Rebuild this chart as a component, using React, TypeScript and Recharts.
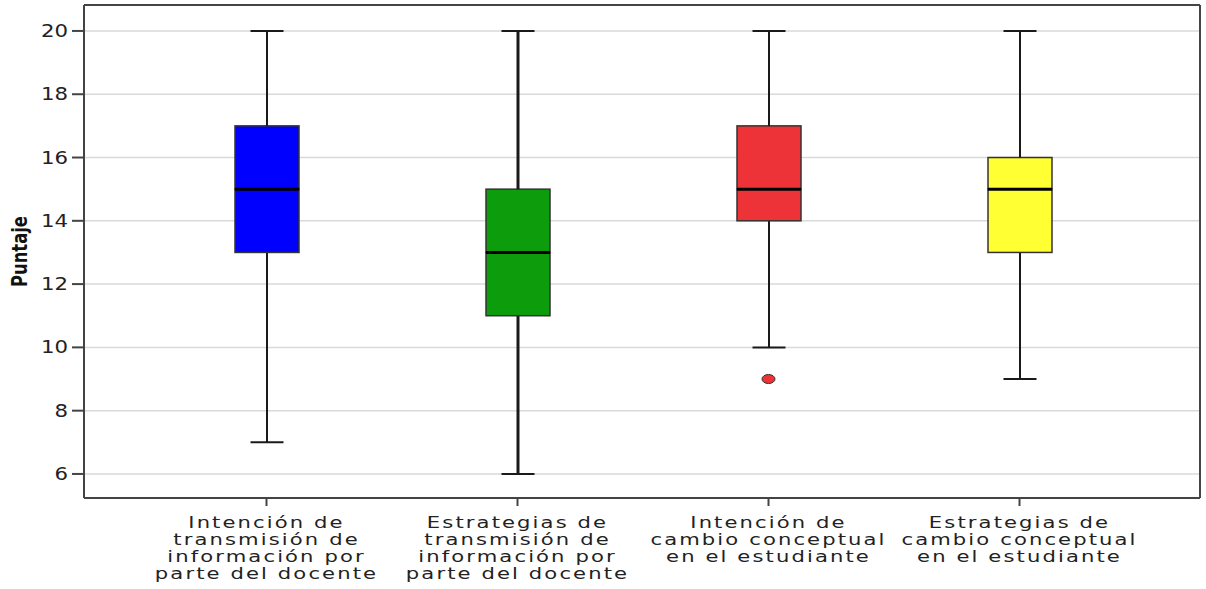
import {
  ComposedChart,
  Bar,
  Scatter,
  XAxis,
  YAxis,
  CartesianGrid,
} from "recharts";

const CATEGORIES = [
  "Intención de\ntransmisión de\ninformación por\nparte del docente",
  "Estrategias de\ntransmisión de\ninformación por\nparte del docente",
  "Intención de\ncambio conceptual\nen el estudiante",
  "Estrategias de\ncambio conceptual\nen el estudiante",
];
const MIN = [7, 6, 10, 9];
const Q1 = [13, 11, 14, 13];
const MEDIAN = [15, 13, 15, 15];
const Q3 = [17, 15, 17, 16];
const MAX = [20, 20, 20, 20];
const OUTLIERS: (number | null)[] = [null, null, 9, null];
const Y_TICKS = [6, 8, 10, 12, 14, 16, 18, 20];

const FILLS = ["#0000ff", "#0c9c0c", "#ee3338", "#ffff33"];
const WHISKER_W = [2, 3, 2, 2];
const TEXT = "#222";
const FONT = "DejaVu Sans, Verdana, sans-serif";

const data = CATEGORIES.map((name, i) => ({
  name,
  base: MIN[i],
  lowWhisker: Q1[i] - MIN[i],
  lowBox: MEDIAN[i] - Q1[i],
  highBox: Q3[i] - MEDIAN[i],
  highWhisker: MAX[i] - Q3[i],
  outlier: OUTLIERS[i],
}));

const idx = (p: any) => CATEGORIES.indexOf(p.payload?.name ?? p.name);

function WhiskerLow(p: any) {
  const i = idx(p);
  const cx = p.x + p.width / 2;
  const sw = WHISKER_W[i] ?? 2;
  return (
    <g stroke="#1a1a1a" strokeWidth={sw}>
      <line x1={cx} x2={cx} y1={p.y} y2={p.y + p.height} />
      <line x1={cx - 16.5} x2={cx + 16.5} y1={p.y + p.height} y2={p.y + p.height} strokeWidth={2} />
    </g>
  );
}

function WhiskerHigh(p: any) {
  const i = idx(p);
  const cx = p.x + p.width / 2;
  const sw = WHISKER_W[i] ?? 2;
  return (
    <g stroke="#1a1a1a" strokeWidth={sw}>
      <line x1={cx} x2={cx} y1={p.y} y2={p.y + p.height} />
      <line x1={cx - 16.5} x2={cx + 16.5} y1={p.y} y2={p.y} strokeWidth={2} />
    </g>
  );
}

function BoxLow(p: any) {
  const i = idx(p);
  return <rect x={p.x} y={p.y} width={p.width} height={p.height} fill={FILLS[i]} stroke="#333" strokeWidth={1.5} />;
}

function BoxHigh(p: any) {
  const i = idx(p);
  const yb = p.y + p.height;
  return (
    <g>
      <rect x={p.x} y={p.y} width={p.width} height={p.height} fill={FILLS[i]} stroke="#333" strokeWidth={1.5} />
      <line x1={p.x} x2={p.x + p.width} y1={yb} y2={yb} stroke="#000" strokeWidth={3} />
    </g>
  );
}

function OutlierDot(p: any) {
  if (p.cx == null || p.cy == null) return <g />;
  return <ellipse cx={p.cx} cy={p.cy} rx={6.5} ry={4.5} fill="#ee3338" stroke="#333" strokeWidth={1} />;
}

function YTick({ x, y, payload }: any) {
  return (
    <text
      transform={`translate(${x},${y}) scale(1.25,1)`}
      textAnchor="end"
      dy={6}
      fontSize={17}
      fontFamily={FONT}
      fill={TEXT}
    >
      {payload.value}
    </text>
  );
}

function XTick({ x, y, payload }: any) {
  const lines = String(payload.value).split("\n");
  return (
    <g transform={`translate(${x},${y}) scale(1.32,1)`}>
      <text textAnchor="middle" fontSize={16} fontFamily={FONT} fill={TEXT} letterSpacing={1.6}>
        {lines.map((l, k) => (
          <tspan key={k} x={0} y={20 + k * 17}>
            {l}
          </tspan>
        ))}
      </text>
    </g>
  );
}

function YLabel({ viewBox }: any) {
  const x = 20;
  const y = viewBox ? viewBox.y + viewBox.height / 2 : 254;
  return (
    <text
      transform={`translate(${x},${y}) rotate(-90) scale(0.78,1)`}
      textAnchor="middle"
      dy={7}
      fontSize={21}
      fontWeight="bold"
      fontFamily="Liberation Sans Narrow, Arial Narrow, DejaVu Sans, sans-serif"
      fill="#111"
    >
      Puntaje
    </text>
  );
}

export default function App() {
  return (
    <div style={{ position: "absolute", left: 0, top: 0, background: "#fff" }}>
      <ComposedChart
        width={1206}
        height={589}
        data={data}
        margin={{ top: 4, right: 5, left: 0, bottom: 0 }}
      >
        <CartesianGrid vertical={false} stroke="#d9d9d9" strokeWidth={1.5} />
        <XAxis
          dataKey="name"
          type="category"
          height={91}
          padding={{ left: 57, right: 55 }}
          tickSize={8}
          tickMargin={2}
          tick={<XTick />}
          interval={0}
          stroke="#444"
          strokeWidth={2}
        />
        <XAxis xAxisId="top" dataKey="name" orientation="top" height={1} tick={false} tickLine={false} stroke="#444" strokeWidth={2} />
        <YAxis
          type="number"
          domain={[5.24, 20.82]}
          allowDataOverflow
          ticks={Y_TICKS}
          width={84}
          tickSize={12}
          tickMargin={4}
          tick={<YTick />}
          stroke="#444"
          strokeWidth={2}
          label={<YLabel />}
        />
        <YAxis yAxisId="right" orientation="right" width={1} domain={[5.24, 20.82]} allowDataOverflow tick={false} tickLine={false} stroke="#444" strokeWidth={2} />
        <Bar dataKey="base" stackId="box" fill="transparent" barSize={64} isAnimationActive={false} />
        <Bar dataKey="lowWhisker" stackId="box" barSize={64} shape={<WhiskerLow />} isAnimationActive={false} />
        <Bar dataKey="lowBox" stackId="box" barSize={64} shape={<BoxLow />} isAnimationActive={false} />
        <Bar dataKey="highBox" stackId="box" barSize={64} shape={<BoxHigh />} isAnimationActive={false} />
        <Bar dataKey="highWhisker" stackId="box" barSize={64} shape={<WhiskerHigh />} isAnimationActive={false} />
        <Scatter dataKey="outlier" shape={<OutlierDot />} isAnimationActive={false} />
      </ComposedChart>
    </div>
  );
}
